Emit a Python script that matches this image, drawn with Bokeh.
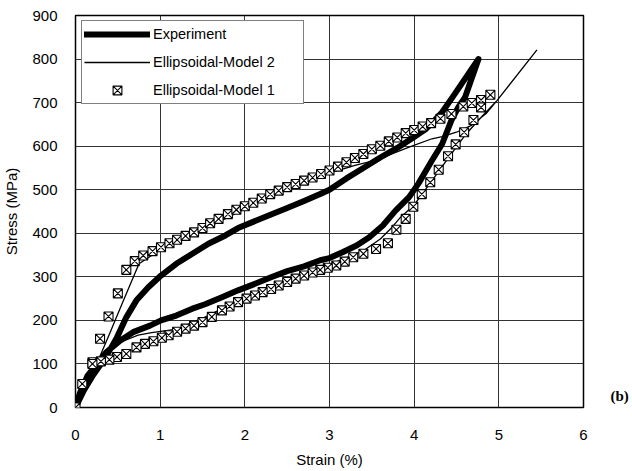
from bokeh.plotting import figure
from bokeh.models import Legend, LegendItem, FixedTicker, LinearAxis
from bokeh.embed import file_html
from bokeh.resources import INLINE

# ---- data ----
exp_load_x = [0, 0.1, 0.2, 0.3, 0.4, 0.49, 0.6, 0.72, 0.86, 1.01, 1.19, 1.38, 1.57, 1.77, 1.92,
              2.12, 2.31, 2.5, 2.7, 2.89, 3.0, 3.2, 3.4, 3.6, 3.8, 4.0, 4.13, 4.23, 4.33, 4.48, 4.64, 4.76]
exp_load_y = [0, 40, 72, 100, 130, 161, 207, 246, 276, 303, 330, 353, 376, 395, 412,
              428, 443, 458, 474, 490, 500, 526, 550, 574, 596, 621, 638, 657, 678, 720, 766, 800]
exp_unload_x = [4.76, 4.6, 4.52, 4.44, 4.33, 4.21, 4.05, 3.94, 3.78, 3.63, 3.47, 3.32, 3.16, 3.0,
                2.89, 2.7, 2.5, 2.31, 2.12, 1.92, 1.73, 1.53, 1.38, 1.19, 1.01, 0.88, 0.68, 0.53,
                0.37, 0.26, 0.14, 0.05, 0]
exp_unload_y = [800, 712, 689, 659, 605, 567, 514, 483, 452, 418, 391, 372, 357, 343,
                338, 324, 313, 299, 284, 269, 253, 237, 227, 211, 200, 188, 173, 154,
                128, 102, 72, 32, 0]

m2_load_x = [0, 0.1, 0.25, 0.4, 0.55, 0.75, 1.0, 1.5, 2.0, 2.5, 3.0, 3.3, 3.55, 3.94, 4.21,
             4.33, 4.5, 4.67, 4.85, 4.98, 5.45]
m2_load_y = [0, 40, 100, 168, 238, 330, 362, 407, 456, 501, 538, 556, 568, 598, 617,
             622, 632, 647, 675, 705, 821]
m2_unload_x = [5.45, 4.98, 4.8, 4.6, 4.4, 4.2, 4.0, 3.84, 3.74, 3.6, 3.4, 3.0, 2.5, 2.0, 1.5,
               1.2, 0.9, 0.74, 0.5, 0.3, 0.15, 0]
m2_unload_y = [821, 705, 668, 625, 572, 518, 465, 437, 414, 387, 360, 328, 292, 253, 205,
               180, 172, 166, 148, 118, 60, 0]

m1_load_x = [0, 0.08, 0.2, 0.29, 0.39, 0.5, 0.6, 0.7, 0.8, 0.91, 1.01, 1.11, 1.2, 1.3, 1.4, 1.5,
             1.59, 1.69, 1.8, 1.9, 2.0, 2.1, 2.2, 2.3, 2.4, 2.5, 2.6, 2.7, 2.8, 2.9, 3.0, 3.1,
             3.2, 3.3, 3.4, 3.5, 3.6, 3.7, 3.8, 3.9, 4.0, 4.1, 4.2, 4.31, 4.44, 4.58, 4.68, 4.79, 4.9]
m1_load_y = [0, 54, 104, 158, 209, 262, 316, 336, 349, 359, 368, 377, 385, 394, 402, 412,
             423, 433, 444, 454, 462, 470, 480, 490, 498, 506, 513, 521, 528, 536, 544, 553,
             563, 573, 582, 593, 601, 611, 620, 630, 637, 645, 653, 663, 674, 691, 699, 706, 718]
m1_unload_x = [4.79, 4.7, 4.59, 4.49, 4.4, 4.29, 4.19, 4.09, 3.99, 3.9, 3.79, 3.69, 3.55, 3.4,
               3.28, 3.18, 3.08, 2.98, 2.89, 2.8, 2.7, 2.6, 2.5, 2.4, 2.31, 2.21, 2.12, 2.02,
               1.92, 1.82, 1.73, 1.61, 1.5, 1.4, 1.3, 1.2, 1.1, 1.02, 0.92, 0.82, 0.72, 0.6,
               0.49, 0.4, 0.3, 0.2]
m1_unload_y = [689, 660, 632, 604, 577, 546, 517, 490, 461, 433, 408, 377, 364, 353,
               345, 335, 326, 321, 316, 310, 303, 296, 288, 280, 272, 265, 257, 250,
               242, 232, 223, 208, 196, 188, 181, 174, 166, 160, 152, 146, 138, 123,
               116, 110, 106, 100]

x_ticks = [0, 1, 2, 3, 4, 5, 6]
y_ticks = [0, 100, 200, 300, 400, 500, 600, 700, 800, 900]
panel_tag = "(b)"
panel_tag_level = 27
FONT = "Liberation Sans"

p = figure(width=632, height=471, x_range=(0, 6), y_range=(0, 900),
           output_backend="svg", toolbar_location=None,
           min_border_left=68, min_border_right=49, min_border_top=15, min_border_bottom=64,
           background_fill_color="white", border_fill_color="white")

p.outline_line_color = "black"
p.outline_line_width = 1.5

for g in (p.xgrid[0], p.ygrid[0]):
    g.grid_line_color = "#333333"
    g.grid_line_width = 1

p.xaxis.ticker = FixedTicker(ticks=x_ticks)
p.yaxis.ticker = FixedTicker(ticks=y_ticks)
for ax in (p.xaxis[0], p.yaxis[0]):
    ax.axis_line_color = None
    ax.major_tick_line_color = None
    ax.minor_tick_line_color = None
    ax.major_label_text_font = FONT
    ax.major_label_text_font_size = "15px"
    ax.major_label_text_color = "black"
    ax.axis_label_text_font = FONT
    ax.axis_label_text_font_size = "15px"
    ax.axis_label_text_font_style = "normal"
    ax.axis_label_text_color = "black"
p.xaxis.axis_label = "Strain (%)"
p.yaxis.axis_label = "Stress (MPa)"
p.xaxis.major_label_standoff = 16
p.yaxis.major_label_standoff = 12
p.xaxis.axis_label_standoff = 8
p.yaxis.axis_label_standoff = 9

# panel tag "(b)" on the right side
rax = LinearAxis(ticker=FixedTicker(ticks=[panel_tag_level]),
                 major_label_overrides={panel_tag_level: panel_tag},
                 axis_line_color=None, major_tick_line_color=None, minor_tick_line_color=None,
                 major_tick_out=0, major_tick_in=0, minor_tick_out=0, minor_tick_in=0,
                 major_label_standoff=27, major_label_text_font="Liberation Serif",
                 major_label_text_font_style="bold", major_label_text_font_size="15px",
                 major_label_text_color="black")
p.add_layout(rax, "right")

# Experiment
r_exp = p.line(exp_load_x + exp_unload_x[1:], exp_load_y + exp_unload_y[1:],
               line_color="black", line_width=6, line_join="round", line_cap="round")
# Ellipsoidal-Model 2
r_m2 = p.line(m2_load_x + m2_unload_x[1:], m2_load_y + m2_unload_y[1:],
              line_color="black", line_width=1.3)
# Ellipsoidal-Model 1
r_m1 = p.scatter(m1_load_x + m1_unload_x, m1_load_y + m1_unload_y, marker="square_x",
                 size=9, line_color="black", line_width=1.1, fill_color="white")

legend = Legend(items=[LegendItem(label="Experiment", renderers=[r_exp]),
                       LegendItem(label="Ellipsoidal-Model 2", renderers=[r_m2]),
                       LegendItem(label="Ellipsoidal-Model 1", renderers=[r_m1])],
                location=(6, 303), margin=0, padding=2, spacing=6,
                glyph_width=66, glyph_height=22, label_standoff=3, label_width=148,
                label_text_font=FONT, label_text_font_size="14.5px", label_text_color="black",
                border_line_color="black", border_line_width=1.2,
                background_fill_color="white", background_fill_alpha=1)
p.add_layout(legend)

open("out.html", "w").write(file_html(p, INLINE))
